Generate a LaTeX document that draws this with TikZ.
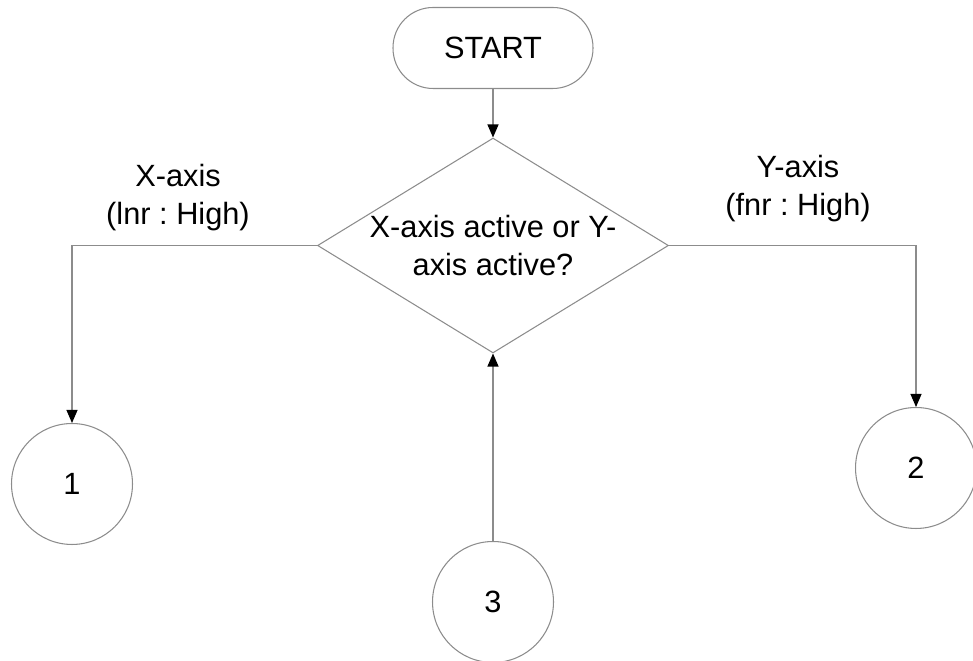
\documentclass[tikz,border=0pt]{standalone}
\usepackage{fontspec}
\setmainfont{Liberation Sans}
\usetikzlibrary{shapes.geometric,arrows.meta,positioning}
\definecolor{linegray}{RGB}{140,140,140}
\frenchspacing

\begin{document}
\begin{tikzpicture}[
    x=0.02cm, y=0.02cm,
    terminal/.style={rectangle, rounded corners=0.8cm, draw=linegray, line width=0.6pt, minimum width=4cm, minimum height=1.62cm, text centered},
    decision/.style={diamond, draw=linegray, line width=0.6pt, aspect=1.63, inner sep=0pt, minimum width=7.02cm, minimum height=4.3cm, align=center},
    connector/.style={circle, draw=linegray, line width=0.6pt, minimum size=2.42cm},
    arrow/.style={draw=linegray, line width=0.6pt, -{Triangle[length=0.26cm, width=0.22cm, color=black]}},
]

  \tikzset{
    font={\fontsize{17.5pt}{21.6pt}\selectfont}
  }
\useasboundingbox (0,0) rectangle (973,661);

% Nodes
\node[terminal] (start) at (493,613) {START};
\node[decision, below=0.97cm of start] (decide) {X-axis active or Y-\\axis active?};
\node[connector, below=3.75cm of decide] (pageC) {3};
\node[connector] (pageA) at (72,177) {1};
\node[connector] (pageB) at (916,193) {2};

% Branch labels
\node[align=center] (xbranch) at (178,463) {X-axis\\(lnr : High)};
\node[align=center] (ybranch) at (798,472) {Y-axis\\(fnr : High)};

% Lines
\draw[arrow] (start) -- (decide);
\draw[arrow] (decide.west) -| (pageA);
\draw[arrow] (decide.east) -| (pageB);
\draw[arrow] (pageC) -- (decide);

\end{tikzpicture}
\end{document}
